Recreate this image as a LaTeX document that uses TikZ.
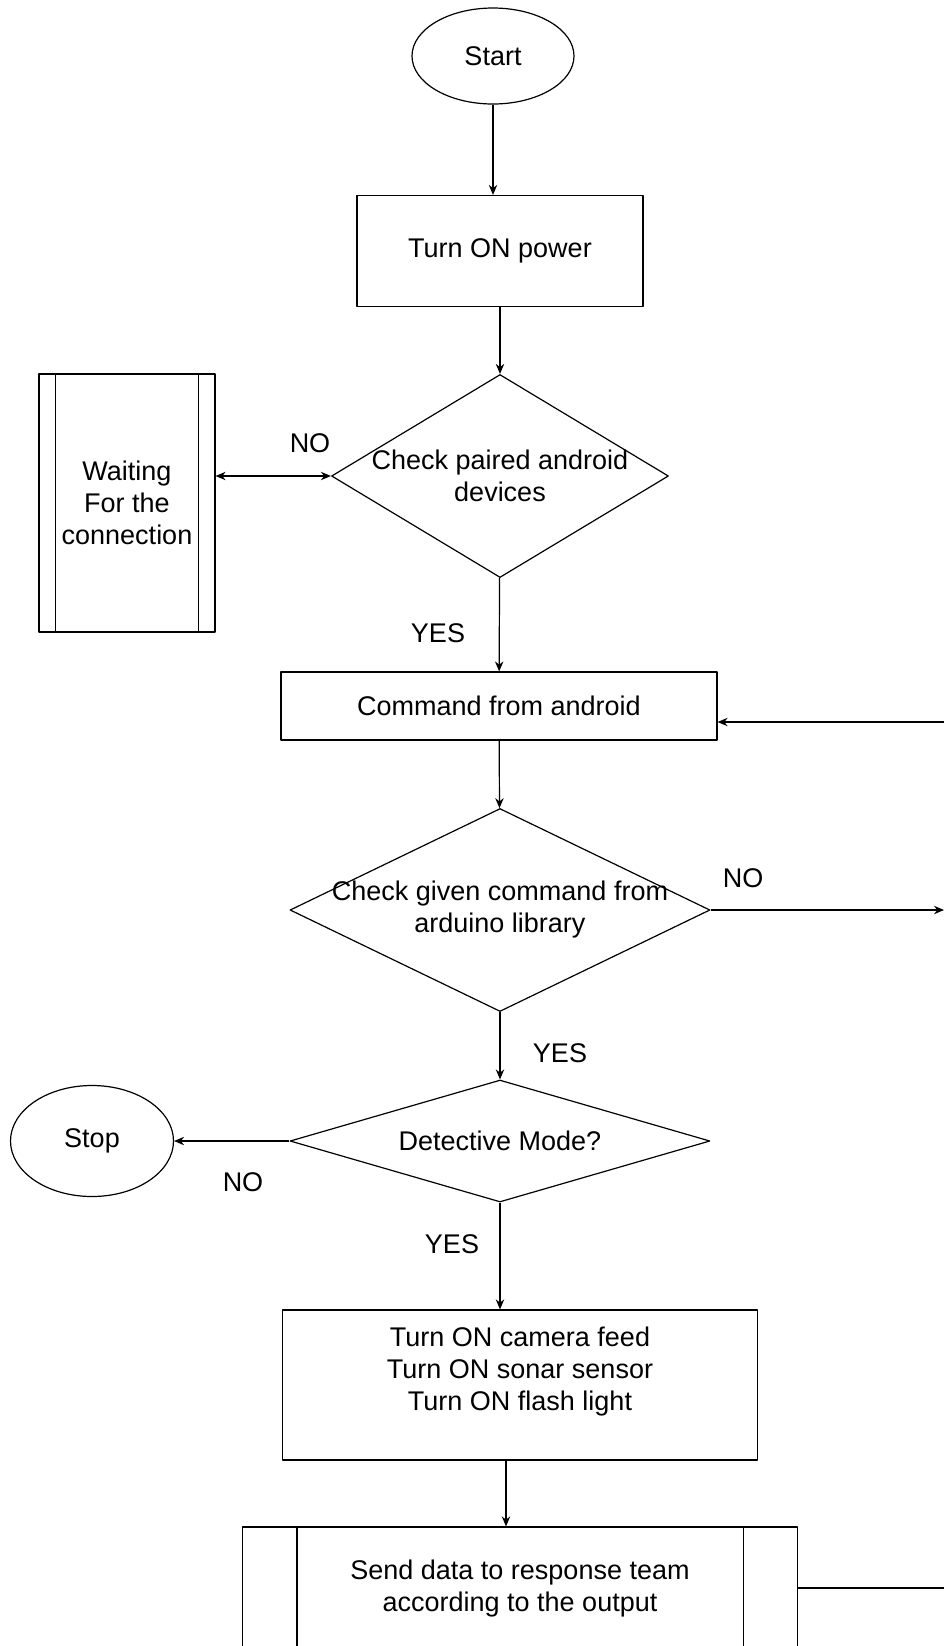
\documentclass[tikz,border=0pt]{standalone}
\usepackage{fontspec}
\setmainfont{Liberation Sans}
\usetikzlibrary{shapes.geometric,arrows.meta}
% text that may run past the edges of a diamond
\newcommand{\dtext}[1]{\makebox[0pt]{\parbox{7cm}{\centering #1}}}
\begin{document}
\begin{tikzpicture}[>={Stealth[length=5pt,width=4.2pt]}, x=0.5pt, y=-0.5pt, line width=0.6pt, line join=round,
    every node/.style={font=\fontsize{13.5}{16}\selectfont},
    term/.style={draw, ellipse, inner sep=0pt},
    procbox/.style={draw, rectangle, align=center, inner sep=0pt},
    decide/.style={draw, diamond, inner sep=0pt}]
    \useasboundingbox (0,0) rectangle (944,1646);
    \clip (0,0) rectangle (944,1646);
    % shapes
    \node[term, minimum width=81pt, minimum height=48pt] (start) at (493,56) {Start};
    \node[procbox, minimum width=143pt, minimum height=55.5pt] (power) at (500,251) {Turn ON power};
    \node[decide, minimum width=168.5pt, minimum height=101.5pt] (pair) at (500,476) {\dtext{Check paired android\\devices}};
    \node[procbox, minimum width=88pt, minimum height=129pt] (wait) at (127,503) {Waiting\\For the\\connection};
    \draw ([xshift=8.5pt]wait.north west) -- ([xshift=8.5pt]wait.south west);
    \draw ([xshift=-8.5pt]wait.north east) -- ([xshift=-8.5pt]wait.south east);
    \node[procbox, minimum width=218pt, minimum height=34pt] (cmd) at (499,706) {Command from android};
    \node[decide, minimum width=210pt, minimum height=101.5pt] (check) at (500,910) {\dtext{Check given command from\\arduino library}};
    \node[decide, minimum width=210pt, minimum height=61pt] (mode) at (500,1141) {\dtext{Detective Mode?}};
    \node[term, minimum width=81.5pt, minimum height=55.5pt] (stop) at (92,1141) {Stop};
    \node[procbox, minimum width=237.5pt, minimum height=75pt] (feed) at (520,1385) {Turn ON camera feed\\Turn ON sonar sensor\\Turn ON flash light\\ \mbox{}};
    \node[procbox, minimum width=277.5pt, minimum height=61pt] (send) at (520,1588) {Send data to response team\\according to the output};
    \draw ([xshift=27.5pt]send.north west) -- ([xshift=27.5pt]send.south west);
    \draw ([xshift=-27.5pt]send.north east) -- ([xshift=-27.5pt]send.south east);
    % loose ends at the right edge
    \coordinate (loopin) at (944,722);
    \coordinate (noout) at (944,910);
    \coordinate (sendout) at (944,1588);
    % labels
    \node (no1) at (310,443) {NO};
    \node (yes1) at (438,633) {YES};
    \node (no2) at (743,878) {NO};
    \node (yes2) at (560,1053) {YES};
    \node (no3) at (243,1182) {NO};
    \node (yes3) at (452,1244) {YES};
    % connectors
    \draw[->] (start) -- (start |- power.north);
    \draw[->] (power) -- (pair);
    \draw[<->] (pair.west) -- (pair.west -| wait.east);
    \draw[->] (pair) -- (cmd);
    \draw[->] (loopin) -- (loopin -| cmd.east);
    \draw[->] (cmd) -- (check);
    \draw[->] (check.east) -- (noout);
    \draw[->] (check) -- (mode);
    \draw[->] (mode.west) -- (stop.east);
    \draw[->] (mode) -- (mode |- feed.north);
    \draw[->] ([xshift=-7pt]feed.south) -- ([xshift=-7pt]feed.south |- send.north);
    \draw (send.east) -- (sendout);
\end{tikzpicture}
\end{document}
